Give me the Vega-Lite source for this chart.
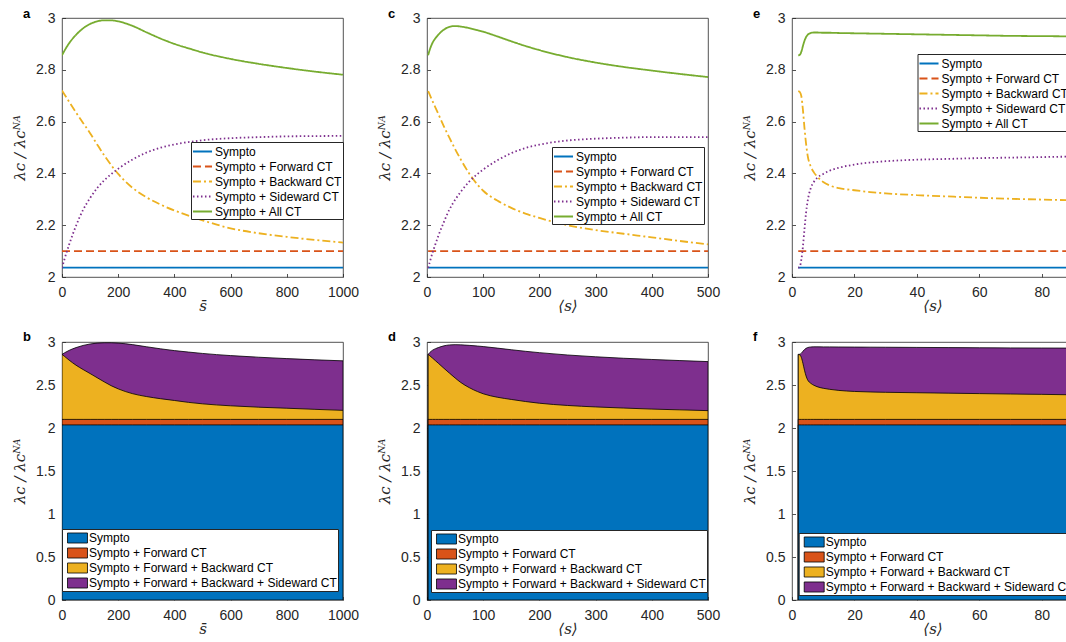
{
  "$schema": "https://vega.github.io/schema/vega-lite/v6.json",
  "background": "white",
  "padding": {"left": 12, "top": 7, "right": 0, "bottom": 0},
  "config": {
    "font": "Liberation Sans",
    "view": {"stroke": "#262626", "strokeWidth": 0.8},
    "axis": {
      "domain": false, "grid": false,
      "tickColor": "#262626", "tickWidth": 0.8, "tickSize": -3.5,
      "labelFont": "Liberation Sans", "labelFontSize": 14, "labelColor": "#262626",
      "labelFlush": false, "labelOverlap": false, "labelBound": false,
      "titleFont": "DejaVu Serif", "titleFontStyle": "italic", "titleFontWeight": "normal",
      "titleFontSize": 15, "titleColor": "#262626"
    },
    "axisY": {"labelPadding": 10.5, "titlePadding": 8},
    "axisX": {"labelPadding": 11.5, "titlePadding": -1},
    "legend": {
      "orient": "none", "fillColor": "white", "strokeColor": "#262626",
      "padding": 1, "rowPadding": 0, "symbolSize": 225,
      "labelFont": "Liberation Sans", "labelFontSize": 12, "labelColor": "black", "labelLimit": 400
    },
    "title": {
      "anchor": "start", "frame": "group", "font": "Liberation Sans", "fontSize": 13,
      "fontWeight": "bold", "color": "black", "dx": -39, "offset": 0, "baseline": "alphabetic"
    }
  },
  "datasets": {
    "mean_s": [
      {"x": 0, "sympto": 2.036, "fwd": 2.1, "bwd": 2.72, "side": 2.035, "all": 2.856, "fb": 2.856},
      {"x": 10, "sympto": 2.036, "fwd": 2.1, "bwd": 2.703, "side": 2.073, "all": 2.876, "fb": 2.83},
      {"x": 25, "sympto": 2.036, "fwd": 2.1, "bwd": 2.677, "side": 2.124, "all": 2.902, "fb": 2.79},
      {"x": 50, "sympto": 2.036, "fwd": 2.1, "bwd": 2.635, "side": 2.198, "all": 2.935, "fb": 2.73},
      {"x": 75, "sympto": 2.036, "fwd": 2.1, "bwd": 2.595, "side": 2.259, "all": 2.96, "fb": 2.68},
      {"x": 100, "sympto": 2.036, "fwd": 2.1, "bwd": 2.555, "side": 2.305, "all": 2.977, "fb": 2.633},
      {"x": 125, "sympto": 2.036, "fwd": 2.1, "bwd": 2.512, "side": 2.343, "all": 2.987, "fb": 2.585},
      {"x": 150, "sympto": 2.036, "fwd": 2.1, "bwd": 2.47, "side": 2.373, "all": 2.991, "fb": 2.537},
      {"x": 175, "sympto": 2.036, "fwd": 2.1, "bwd": 2.432, "side": 2.397, "all": 2.991, "fb": 2.492},
      {"x": 200, "sympto": 2.036, "fwd": 2.1, "bwd": 2.398, "side": 2.418, "all": 2.987, "fb": 2.455},
      {"x": 250, "sympto": 2.036, "fwd": 2.1, "bwd": 2.345, "side": 2.453, "all": 2.97, "fb": 2.4},
      {"x": 300, "sympto": 2.036, "fwd": 2.1, "bwd": 2.308, "side": 2.48, "all": 2.945, "fb": 2.366},
      {"x": 350, "sympto": 2.036, "fwd": 2.1, "bwd": 2.28, "side": 2.499, "all": 2.921, "fb": 2.341},
      {"x": 400, "sympto": 2.036, "fwd": 2.1, "bwd": 2.257, "side": 2.512, "all": 2.9, "fb": 2.32},
      {"x": 450, "sympto": 2.036, "fwd": 2.1, "bwd": 2.237, "side": 2.521, "all": 2.883, "fb": 2.298},
      {"x": 500, "sympto": 2.036, "fwd": 2.1, "bwd": 2.219, "side": 2.528, "all": 2.867, "fb": 2.281},
      {"x": 600, "sympto": 2.036, "fwd": 2.1, "bwd": 2.188, "side": 2.536, "all": 2.842, "fb": 2.258},
      {"x": 700, "sympto": 2.036, "fwd": 2.1, "bwd": 2.169, "side": 2.54, "all": 2.823, "fb": 2.242},
      {"x": 800, "sympto": 2.036, "fwd": 2.1, "bwd": 2.155, "side": 2.543, "all": 2.807, "fb": 2.23},
      {"x": 900, "sympto": 2.036, "fwd": 2.1, "bwd": 2.143, "side": 2.544, "all": 2.793, "fb": 2.217},
      {"x": 1000, "sympto": 2.036, "fwd": 2.1, "bwd": 2.133, "side": 2.545, "all": 2.781, "fb": 2.205}
    ],
    "avg_s": [
      {"x": 2, "sympto": 2.036, "fwd": 2.1, "bwd": 2.718, "side": 2.035, "all": 2.856, "fb": 2.856},
      {"x": 5, "sympto": 2.036, "fwd": 2.1, "bwd": 2.703, "side": 2.058, "all": 2.878, "fb": 2.84},
      {"x": 10, "sympto": 2.036, "fwd": 2.1, "bwd": 2.678, "side": 2.095, "all": 2.905, "fb": 2.812},
      {"x": 15, "sympto": 2.036, "fwd": 2.1, "bwd": 2.654, "side": 2.127, "all": 2.922, "fb": 2.783},
      {"x": 20, "sympto": 2.036, "fwd": 2.1, "bwd": 2.63, "side": 2.158, "all": 2.935, "fb": 2.754},
      {"x": 30, "sympto": 2.036, "fwd": 2.1, "bwd": 2.582, "side": 2.212, "all": 2.955, "fb": 2.695},
      {"x": 40, "sympto": 2.036, "fwd": 2.1, "bwd": 2.537, "side": 2.261, "all": 2.966, "fb": 2.638},
      {"x": 50, "sympto": 2.036, "fwd": 2.1, "bwd": 2.494, "side": 2.298, "all": 2.969, "fb": 2.582},
      {"x": 60, "sympto": 2.036, "fwd": 2.1, "bwd": 2.454, "side": 2.329, "all": 2.967, "fb": 2.53},
      {"x": 75, "sympto": 2.036, "fwd": 2.1, "bwd": 2.4, "side": 2.368, "all": 2.961, "fb": 2.47},
      {"x": 90, "sympto": 2.036, "fwd": 2.1, "bwd": 2.356, "side": 2.398, "all": 2.953, "fb": 2.423},
      {"x": 100, "sympto": 2.036, "fwd": 2.1, "bwd": 2.333, "side": 2.415, "all": 2.947, "fb": 2.398},
      {"x": 125, "sympto": 2.036, "fwd": 2.1, "bwd": 2.295, "side": 2.45, "all": 2.929, "fb": 2.358},
      {"x": 150, "sympto": 2.036, "fwd": 2.1, "bwd": 2.267, "side": 2.478, "all": 2.91, "fb": 2.332},
      {"x": 175, "sympto": 2.036, "fwd": 2.1, "bwd": 2.245, "side": 2.498, "all": 2.892, "fb": 2.308},
      {"x": 200, "sympto": 2.036, "fwd": 2.1, "bwd": 2.228, "side": 2.511, "all": 2.876, "fb": 2.288},
      {"x": 250, "sympto": 2.036, "fwd": 2.1, "bwd": 2.2, "side": 2.527, "all": 2.849, "fb": 2.262},
      {"x": 300, "sympto": 2.036, "fwd": 2.1, "bwd": 2.181, "side": 2.534, "all": 2.828, "fb": 2.245},
      {"x": 350, "sympto": 2.036, "fwd": 2.1, "bwd": 2.167, "side": 2.538, "all": 2.811, "fb": 2.232},
      {"x": 400, "sympto": 2.036, "fwd": 2.1, "bwd": 2.153, "side": 2.54, "all": 2.797, "fb": 2.22},
      {"x": 450, "sympto": 2.036, "fwd": 2.1, "bwd": 2.139, "side": 2.54, "all": 2.784, "fb": 2.211},
      {"x": 500, "sympto": 2.036, "fwd": 2.1, "bwd": 2.126, "side": 2.54, "all": 2.772, "fb": 2.202}
    ],
    "avg_s_small": [
      {"x": 2, "sympto": 2.036, "fwd": 2.1, "bwd": 2.718, "side": 2.035, "all": 2.856, "fb": 2.856},
      {"x": 2.5, "sympto": 2.036, "fwd": 2.1, "bwd": 2.714, "side": 2.04, "all": 2.858, "fb": 2.85},
      {"x": 3, "sympto": 2.036, "fwd": 2.1, "bwd": 2.698, "side": 2.068, "all": 2.87, "fb": 2.82},
      {"x": 3.5, "sympto": 2.036, "fwd": 2.1, "bwd": 2.645, "side": 2.118, "all": 2.892, "fb": 2.752},
      {"x": 4, "sympto": 2.036, "fwd": 2.1, "bwd": 2.575, "side": 2.185, "all": 2.912, "fb": 2.672},
      {"x": 4.5, "sympto": 2.036, "fwd": 2.1, "bwd": 2.515, "side": 2.248, "all": 2.926, "fb": 2.605},
      {"x": 5, "sympto": 2.036, "fwd": 2.1, "bwd": 2.47, "side": 2.292, "all": 2.935, "fb": 2.56},
      {"x": 6, "sympto": 2.036, "fwd": 2.1, "bwd": 2.427, "side": 2.343, "all": 2.942, "fb": 2.52},
      {"x": 7, "sympto": 2.036, "fwd": 2.1, "bwd": 2.404, "side": 2.367, "all": 2.944, "fb": 2.497},
      {"x": 8, "sympto": 2.036, "fwd": 2.1, "bwd": 2.389, "side": 2.382, "all": 2.944, "fb": 2.481},
      {"x": 10, "sympto": 2.036, "fwd": 2.1, "bwd": 2.367, "side": 2.398, "all": 2.943, "fb": 2.462},
      {"x": 12, "sympto": 2.036, "fwd": 2.1, "bwd": 2.354, "side": 2.41, "all": 2.943, "fb": 2.45},
      {"x": 15, "sympto": 2.036, "fwd": 2.1, "bwd": 2.343, "side": 2.422, "all": 2.942, "fb": 2.437},
      {"x": 20, "sympto": 2.036, "fwd": 2.1, "bwd": 2.335, "side": 2.434, "all": 2.941, "fb": 2.425},
      {"x": 25, "sympto": 2.036, "fwd": 2.1, "bwd": 2.328, "side": 2.442, "all": 2.94, "fb": 2.419},
      {"x": 30, "sympto": 2.036, "fwd": 2.1, "bwd": 2.323, "side": 2.447, "all": 2.939, "fb": 2.415},
      {"x": 40, "sympto": 2.036, "fwd": 2.1, "bwd": 2.316, "side": 2.453, "all": 2.937, "fb": 2.41},
      {"x": 50, "sympto": 2.036, "fwd": 2.1, "bwd": 2.311, "side": 2.456, "all": 2.935, "fb": 2.405},
      {"x": 60, "sympto": 2.036, "fwd": 2.1, "bwd": 2.306, "side": 2.459, "all": 2.933, "fb": 2.4},
      {"x": 70, "sympto": 2.036, "fwd": 2.1, "bwd": 2.302, "side": 2.461, "all": 2.931, "fb": 2.395},
      {"x": 80, "sympto": 2.036, "fwd": 2.1, "bwd": 2.299, "side": 2.463, "all": 2.93, "fb": 2.391},
      {"x": 90, "sympto": 2.036, "fwd": 2.1, "bwd": 2.296, "side": 2.465, "all": 2.929, "fb": 2.386}
    ]
  },
  "columns": 3,
  "spacing": {"row": 65, "column": 84},
  "bounds": "flush",
  "resolve": {
    "scale": {"x": "independent", "y": "independent", "color": "independent", "strokeDash": "independent"},
    "legend": {"color": "independent", "strokeDash": "independent"}
  },
  "concat": [
    {
      "width": 281, "height": 259,
      "title": {"text": "a", "dy": 13.5},
      "data": {"name": "mean_s"},
      "transform": [{"fold": ["sympto", "fwd", "bwd", "side", "all"], "as": ["series", "value"]}],
      "mark": {"type": "line", "strokeWidth": 1.8, "interpolate": "monotone", "clip": true},
      "encoding": {
        "x": {"field": "x", "type": "quantitative", "scale": {"domain": [0, 1000], "nice": false, "zero": false}, "axis": {"values": [0, 200, 400, 600, 800, 1000], "labelExpr": "'' + datum.value"}, "title": "s̄"},
        "y": {"field": "value", "type": "quantitative", "scale": {"domain": [2, 3], "nice": false, "zero": false}, "axis": {"values": [2, 2.2, 2.4, 2.6, 2.8, 3], "labelExpr": "'' + datum.value"}, "title": "λᴄ / λᴄᴺᴬ"},
        "color": {"field": "series", "type": "nominal", "scale": {"domain": ["sympto", "fwd", "bwd", "side", "all"], "range": ["#0072BD", "#D95319", "#EDB120", "#7E2F8E", "#77AC30"]},
          "legend": {"title": null, "legendX": 129, "legendY": 124, "symbolType": "M-1.27,0H1.27", "symbolStrokeWidth": 1.8, "symbolOffset": 2, "labelOffset": 4,
            "labelExpr": "datum.label == 'sympto' ? 'Sympto' : datum.label == 'fwd' ? 'Sympto + Forward CT' : datum.label == 'bwd' ? 'Sympto + Backward CT' : datum.label == 'side' ? 'Sympto + Sideward CT' : 'Sympto + All CT'"}},
        "strokeDash": {"field": "series", "type": "nominal", "scale": {"domain": ["sympto", "fwd", "bwd", "side", "all"], "range": [[1, 0], [8, 4], [8, 3, 2, 3], [1.5, 2.5], [1, 0]]},
          "legend": {"title": null, "legendX": 129, "legendY": 124, "symbolType": "M-1.27,0H1.27", "symbolStrokeWidth": 1.8, "symbolOffset": 2, "labelOffset": 4,
            "labelExpr": "datum.label == 'sympto' ? 'Sympto' : datum.label == 'fwd' ? 'Sympto + Forward CT' : datum.label == 'bwd' ? 'Sympto + Backward CT' : datum.label == 'side' ? 'Sympto + Sideward CT' : 'Sympto + All CT'"}}
      }
    },
    {
      "width": 281, "height": 259,
      "title": {"text": "c", "dy": 13.5},
      "data": {"name": "avg_s"},
      "transform": [{"fold": ["sympto", "fwd", "bwd", "side", "all"], "as": ["series", "value"]}],
      "mark": {"type": "line", "strokeWidth": 1.8, "interpolate": "monotone", "clip": true},
      "encoding": {
        "x": {"field": "x", "type": "quantitative", "scale": {"domain": [0, 500], "nice": false, "zero": false}, "axis": {"values": [0, 100, 200, 300, 400, 500], "labelExpr": "'' + datum.value"}, "title": "⟨s⟩"},
        "y": {"field": "value", "type": "quantitative", "scale": {"domain": [2, 3], "nice": false, "zero": false}, "axis": {"values": [2, 2.2, 2.4, 2.6, 2.8, 3], "labelExpr": "'' + datum.value"}, "title": "λᴄ / λᴄᴺᴬ"},
        "color": {"field": "series", "type": "nominal", "scale": {"domain": ["sympto", "fwd", "bwd", "side", "all"], "range": ["#0072BD", "#D95319", "#EDB120", "#7E2F8E", "#77AC30"]},
          "legend": {"title": null, "legendX": 125, "legendY": 129, "symbolType": "M-1.27,0H1.27", "symbolStrokeWidth": 1.8, "symbolOffset": 2, "labelOffset": 4,
            "labelExpr": "datum.label == 'sympto' ? 'Sympto' : datum.label == 'fwd' ? 'Sympto + Forward CT' : datum.label == 'bwd' ? 'Sympto + Backward CT' : datum.label == 'side' ? 'Sympto + Sideward CT' : 'Sympto + All CT'"}},
        "strokeDash": {"field": "series", "type": "nominal", "scale": {"domain": ["sympto", "fwd", "bwd", "side", "all"], "range": [[1, 0], [8, 4], [8, 3, 2, 3], [1.5, 2.5], [1, 0]]},
          "legend": {"title": null, "legendX": 125, "legendY": 129, "symbolType": "M-1.27,0H1.27", "symbolStrokeWidth": 1.8, "symbolOffset": 2, "labelOffset": 4,
            "labelExpr": "datum.label == 'sympto' ? 'Sympto' : datum.label == 'fwd' ? 'Sympto + Forward CT' : datum.label == 'bwd' ? 'Sympto + Backward CT' : datum.label == 'side' ? 'Sympto + Sideward CT' : 'Sympto + All CT'"}}
      }
    },
    {
      "width": 281, "height": 259,
      "title": {"text": "e", "dy": 13.5},
      "data": {"name": "avg_s_small"},
      "transform": [{"fold": ["sympto", "fwd", "bwd", "side", "all"], "as": ["series", "value"]}],
      "mark": {"type": "line", "strokeWidth": 1.8, "interpolate": "monotone", "clip": true},
      "encoding": {
        "x": {"field": "x", "type": "quantitative", "scale": {"domain": [0, 90], "nice": false, "zero": false}, "axis": {"values": [0, 20, 40, 60, 80], "labelExpr": "'' + datum.value"}, "title": "⟨s⟩"},
        "y": {"field": "value", "type": "quantitative", "scale": {"domain": [2, 3], "nice": false, "zero": false}, "axis": {"values": [2, 2.2, 2.4, 2.6, 2.8, 3], "labelExpr": "'' + datum.value"}, "title": "λᴄ / λᴄᴺᴬ"},
        "color": {"field": "series", "type": "nominal", "scale": {"domain": ["sympto", "fwd", "bwd", "side", "all"], "range": ["#0072BD", "#D95319", "#EDB120", "#7E2F8E", "#77AC30"]},
          "legend": {"title": null, "legendX": 125.5, "legendY": 36, "symbolType": "M-1.27,0H1.27", "symbolStrokeWidth": 1.8, "symbolOffset": 2, "labelOffset": 4,
            "labelExpr": "datum.label == 'sympto' ? 'Sympto' : datum.label == 'fwd' ? 'Sympto + Forward CT' : datum.label == 'bwd' ? 'Sympto + Backward CT' : datum.label == 'side' ? 'Sympto + Sideward CT' : 'Sympto + All CT'"}},
        "strokeDash": {"field": "series", "type": "nominal", "scale": {"domain": ["sympto", "fwd", "bwd", "side", "all"], "range": [[1, 0], [8, 4], [8, 3, 2, 3], [1.5, 2.5], [1, 0]]},
          "legend": {"title": null, "legendX": 125.5, "legendY": 36, "symbolType": "M-1.27,0H1.27", "symbolStrokeWidth": 1.8, "symbolOffset": 2, "labelOffset": 4,
            "labelExpr": "datum.label == 'sympto' ? 'Sympto' : datum.label == 'fwd' ? 'Sympto + Forward CT' : datum.label == 'bwd' ? 'Sympto + Backward CT' : datum.label == 'side' ? 'Sympto + Sideward CT' : 'Sympto + All CT'"}}
      }
    },
    {
      "width": 281, "height": 258,
      "title": {"text": "b", "dy": 12.5},
      "data": {"name": "mean_s"},
      "encoding": {
        "x": {"field": "x", "type": "quantitative", "scale": {"domain": [0, 1000], "nice": false, "zero": false}, "axis": {"values": [0, 200, 400, 600, 800, 1000], "labelExpr": "'' + datum.value"}, "title": "s̄"}
      },
      "layer": [
        {"mark": {"type": "area", "stroke": "black", "strokeWidth": 0.8, "interpolate": "monotone", "clip": true},
         "encoding": {
           "y": {"field": "all", "type": "quantitative", "scale": {"domain": [0, 3], "nice": false}, "axis": {"values": [0, 0.5, 1, 1.5, 2, 2.5, 3], "labelExpr": "'' + datum.value"}, "title": "λᴄ / λᴄᴺᴬ"},
           "color": {"datum": "all", "type": "nominal", "scale": {"domain": ["sympto", "fwd", "fb", "all"], "range": ["#0072BD", "#D95319", "#EDB120", "#7E2F8E"]},
             "legend": {"title": null, "legendX": 0, "legendY": 187, "symbolType": "M-1.33,-0.67H1.33V0.67H-1.33Z", "symbolStrokeColor": "black", "symbolStrokeWidth": 0.8, "symbolOffset": 6.5, "labelOffset": 3.5,
               "encode": {"symbols": {"update": {"stroke": {"value": "black"}, "strokeWidth": {"value": 0.8}}}},
               "labelExpr": "datum.label == 'sympto' ? 'Sympto' : datum.label == 'fwd' ? 'Sympto + Forward CT' : datum.label == 'fb' ? 'Sympto + Forward + Backward CT' : 'Sympto + Forward + Backward + Sideward CT'"}}
         }},
        {"mark": {"type": "area", "stroke": "black", "strokeWidth": 0.8, "interpolate": "monotone", "clip": true},
         "encoding": {"y": {"field": "fb", "type": "quantitative", "title": "λᴄ / λᴄᴺᴬ"}, "color": {"datum": "fb", "type": "nominal"}}},
        {"mark": {"type": "area", "stroke": "black", "strokeWidth": 0.8, "interpolate": "monotone", "clip": true},
         "encoding": {"y": {"field": "fwd", "type": "quantitative", "title": "λᴄ / λᴄᴺᴬ"}, "color": {"datum": "fwd", "type": "nominal"}}},
        {"mark": {"type": "area", "stroke": "black", "strokeWidth": 0.8, "interpolate": "monotone", "clip": true},
         "encoding": {"y": {"field": "sympto", "type": "quantitative", "title": "λᴄ / λᴄᴺᴬ"}, "color": {"datum": "sympto", "type": "nominal"}}}
      ]
    },
    {
      "width": 281, "height": 258,
      "title": {"text": "d", "dy": 12.5},
      "data": {"name": "avg_s"},
      "encoding": {
        "x": {"field": "x", "type": "quantitative", "scale": {"domain": [0, 500], "nice": false, "zero": false}, "axis": {"values": [0, 100, 200, 300, 400, 500], "labelExpr": "'' + datum.value"}, "title": "⟨s⟩"}
      },
      "layer": [
        {"mark": {"type": "area", "stroke": "black", "strokeWidth": 0.8, "interpolate": "monotone", "clip": true},
         "encoding": {
           "y": {"field": "all", "type": "quantitative", "scale": {"domain": [0, 3], "nice": false}, "axis": {"values": [0, 0.5, 1, 1.5, 2, 2.5, 3], "labelExpr": "'' + datum.value"}, "title": "λᴄ / λᴄᴺᴬ"},
           "color": {"datum": "all", "type": "nominal", "scale": {"domain": ["sympto", "fwd", "fb", "all"], "range": ["#0072BD", "#D95319", "#EDB120", "#7E2F8E"]},
             "legend": {"title": null, "legendX": 4, "legendY": 188, "symbolType": "M-1.33,-0.67H1.33V0.67H-1.33Z", "symbolStrokeColor": "black", "symbolStrokeWidth": 0.8, "symbolOffset": 6.5, "labelOffset": 3.5,
               "encode": {"symbols": {"update": {"stroke": {"value": "black"}, "strokeWidth": {"value": 0.8}}}},
               "labelExpr": "datum.label == 'sympto' ? 'Sympto' : datum.label == 'fwd' ? 'Sympto + Forward CT' : datum.label == 'fb' ? 'Sympto + Forward + Backward CT' : 'Sympto + Forward + Backward + Sideward CT'"}}
         }},
        {"mark": {"type": "area", "stroke": "black", "strokeWidth": 0.8, "interpolate": "monotone", "clip": true},
         "encoding": {"y": {"field": "fb", "type": "quantitative", "title": "λᴄ / λᴄᴺᴬ"}, "color": {"datum": "fb", "type": "nominal"}}},
        {"mark": {"type": "area", "stroke": "black", "strokeWidth": 0.8, "interpolate": "monotone", "clip": true},
         "encoding": {"y": {"field": "fwd", "type": "quantitative", "title": "λᴄ / λᴄᴺᴬ"}, "color": {"datum": "fwd", "type": "nominal"}}},
        {"mark": {"type": "area", "stroke": "black", "strokeWidth": 0.8, "interpolate": "monotone", "clip": true},
         "encoding": {"y": {"field": "sympto", "type": "quantitative", "title": "λᴄ / λᴄᴺᴬ"}, "color": {"datum": "sympto", "type": "nominal"}}}
      ]
    },
    {
      "width": 281, "height": 258,
      "title": {"text": "f", "dy": 12.5},
      "data": {"name": "avg_s_small"},
      "encoding": {
        "x": {"field": "x", "type": "quantitative", "scale": {"domain": [0, 90], "nice": false, "zero": false}, "axis": {"values": [0, 20, 40, 60, 80], "labelExpr": "'' + datum.value"}, "title": "⟨s⟩"}
      },
      "layer": [
        {"mark": {"type": "area", "stroke": "black", "strokeWidth": 0.8, "interpolate": "monotone", "clip": true},
         "encoding": {
           "y": {"field": "all", "type": "quantitative", "scale": {"domain": [0, 3], "nice": false}, "axis": {"values": [0, 0.5, 1, 1.5, 2, 2.5, 3], "labelExpr": "'' + datum.value"}, "title": "λᴄ / λᴄᴺᴬ"},
           "color": {"datum": "all", "type": "nominal", "scale": {"domain": ["sympto", "fwd", "fb", "all"], "range": ["#0072BD", "#D95319", "#EDB120", "#7E2F8E"]},
             "legend": {"title": null, "legendX": 6.7, "legendY": 191, "symbolType": "M-1.33,-0.67H1.33V0.67H-1.33Z", "symbolStrokeColor": "black", "symbolStrokeWidth": 0.8, "symbolOffset": 6.5, "labelOffset": 3.5,
               "encode": {"symbols": {"update": {"stroke": {"value": "black"}, "strokeWidth": {"value": 0.8}}}},
               "labelExpr": "datum.label == 'sympto' ? 'Sympto' : datum.label == 'fwd' ? 'Sympto + Forward CT' : datum.label == 'fb' ? 'Sympto + Forward + Backward CT' : 'Sympto + Forward + Backward + Sideward CT'"}}
         }},
        {"mark": {"type": "area", "stroke": "black", "strokeWidth": 0.8, "interpolate": "monotone", "clip": true},
         "encoding": {"y": {"field": "fb", "type": "quantitative", "title": "λᴄ / λᴄᴺᴬ"}, "color": {"datum": "fb", "type": "nominal"}}},
        {"mark": {"type": "area", "stroke": "black", "strokeWidth": 0.8, "interpolate": "monotone", "clip": true},
         "encoding": {"y": {"field": "fwd", "type": "quantitative", "title": "λᴄ / λᴄᴺᴬ"}, "color": {"datum": "fwd", "type": "nominal"}}},
        {"mark": {"type": "area", "stroke": "black", "strokeWidth": 0.8, "interpolate": "monotone", "clip": true},
         "encoding": {"y": {"field": "sympto", "type": "quantitative", "title": "λᴄ / λᴄᴺᴬ"}, "color": {"datum": "sympto", "type": "nominal"}}}
      ]
    }
  ]
}
